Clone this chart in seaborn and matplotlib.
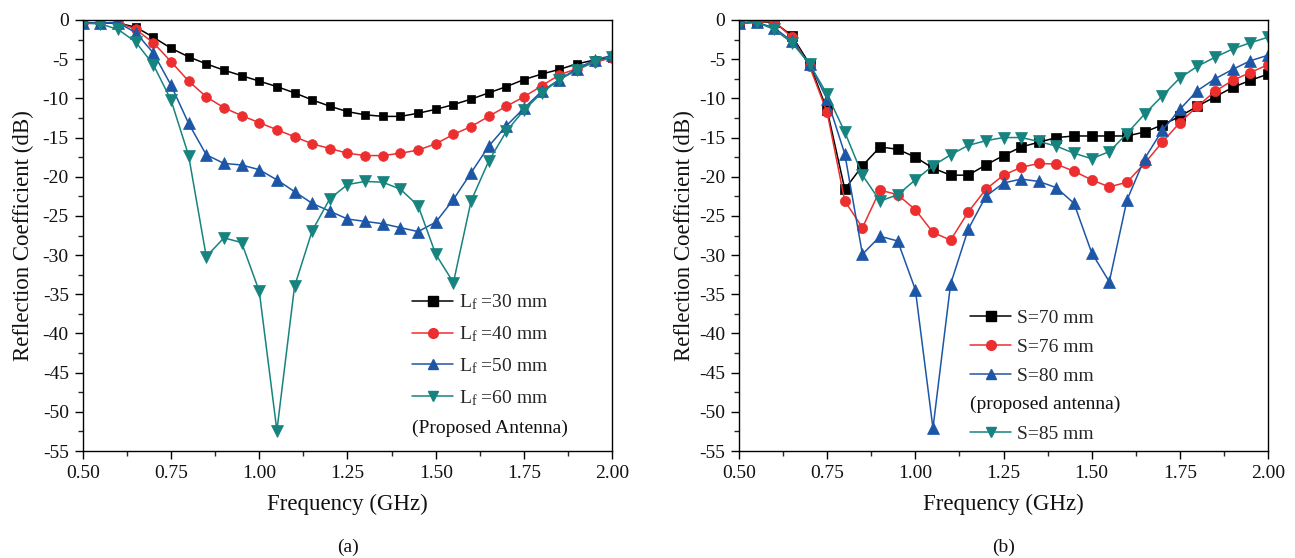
import numpy as np
import pandas as pd
import matplotlib
matplotlib.use("Agg")
import matplotlib.pyplot as plt
from matplotlib.lines import Line2D
from matplotlib.ticker import MultipleLocator
import seaborn as sns

freq = [0.50, 0.55, 0.60, 0.65, 0.70, 0.75, 0.80, 0.85, 0.90, 0.95,
        1.00, 1.05, 1.10, 1.15, 1.20, 1.25, 1.30, 1.35, 1.40, 1.45,
        1.50, 1.55, 1.60, 1.65, 1.70, 1.75, 1.80, 1.85, 1.90, 1.95, 2.00]

# panel (a)
lf30 = [-0.3, -0.4, -0.4, -0.9, -2.2, -3.6, -4.7, -5.6, -6.4, -7.1, -7.8, -8.5, -9.3, -10.2, -11.0,
        -11.7, -12.1, -12.3, -12.3, -11.9, -11.4, -10.8, -10.1, -9.3, -8.5, -7.6, -6.9, -6.3, -5.6, -5.1, -4.8]
lf40 = [-0.4, -0.4, -0.3, -1.2, -2.9, -5.3, -7.8, -9.8, -11.2, -12.2, -13.1, -14.0, -14.9, -15.8, -16.4,
        -17.0, -17.3, -17.3, -17.0, -16.6, -15.8, -14.6, -13.6, -12.3, -11.0, -9.8, -8.4, -7.0, -6.2, -5.4, -4.8]
lf50 = [-0.4, -0.35, -0.35, -1.6, -4.2, -8.3, -13.2, -17.2, -18.3, -18.5, -19.1, -20.4, -21.9, -23.4, -24.4,
        -25.4, -25.7, -26.0, -26.5, -27.0, -25.8, -22.9, -19.5, -16.1, -13.5, -11.25, -9.1, -7.6, -6.2, -5.1, -4.5]
lf60 = [-0.4, -0.5, -1.2, -2.8, -5.7, -10.2, -17.3, -30.2, -27.8, -28.4, -34.6, -52.4, -34.0, -26.9, -22.8,
        -21.0, -20.6, -20.7, -21.6, -23.7, -29.9, -33.5, -23.1, -18.0, -14.2, -11.5, -9.3, -7.6, -6.4, -5.3, -4.75]
labels_a = [r"L$_{\mathregular{f}}$ =30 mm", r"L$_{\mathregular{f}}$ =40 mm",
            r"L$_{\mathregular{f}}$ =50 mm", r"L$_{\mathregular{f}}$ =60 mm"]
note_a = "(Proposed Antenna)"

# panel (b)
s70 = [-0.4, -0.2, -0.3, -2.0, -5.6, -11.5, -21.6, -18.6, -16.2, -16.5, -17.5, -18.9, -19.8, -19.8, -18.5,
       -17.3, -16.2, -15.6, -15.0, -14.8, -14.8, -14.8, -14.8, -14.3, -13.4, -12.3, -11.0, -9.8, -8.6, -7.7, -6.9]
s76 = [-0.4, -0.2, -0.2, -2.2, -5.9, -11.8, -23.1, -26.5, -21.7, -22.3, -24.2, -27.1, -28.1, -24.5, -21.6,
       -19.8, -18.8, -18.3, -18.4, -19.3, -20.4, -21.3, -20.7, -18.3, -15.6, -13.1, -11.0, -9.1, -7.7, -6.7, -5.7]
s80 = [-0.4, -0.3, -1.0, -2.7, -5.6, -10.1, -17.1, -29.9, -27.6, -28.2, -34.4, -52.1, -33.7, -26.7, -22.5,
       -20.8, -20.3, -20.6, -21.4, -23.4, -29.7, -33.4, -23.0, -17.7, -14.1, -11.4, -9.0, -7.5, -6.3, -5.2, -4.5]
s85 = [-0.5, -0.3, -1.2, -2.9, -5.6, -9.5, -14.3, -19.8, -23.1, -22.3, -20.4, -18.6, -17.2, -16.0, -15.4,
       -15.0, -15.0, -15.5, -16.1, -17.0, -17.7, -16.8, -14.5, -12.0, -9.7, -7.4, -5.9, -4.75, -3.7, -2.9, -2.2]
labels_b = ["S=70 mm", "S=76 mm", "S=80 mm", "S=85 mm"]
note_b = "(proposed antenna)"

xticks = [0.50, 0.75, 1.00, 1.25, 1.50, 1.75, 2.00]
xticklabels = ["0.50", "0.75", "1.00", "1.25", "1.50", "1.75", "2.00"]
yticks = [0, -5, -10, -15, -20, -25, -30, -35, -40, -45, -50, -55]

colors = ["#000000", "#EC2E2E", "#1D56A6", "#17837E"]
markers = ["s", "o", "^", "v"]

sns.set_theme(style="ticks")
plt.rcParams["font.family"] = ["Liberation Serif", "DejaVu Serif"]
plt.rcParams["mathtext.fontset"] = "custom"
plt.rcParams["mathtext.rm"] = "Liberation Serif"
plt.rcParams["mathtext.it"] = "Liberation Serif:italic"

fig = plt.figure(figsize=(12.95, 5.58), dpi=100)
axA = fig.add_axes([82.7 / 1295, 1 - 451 / 558, 529.6 / 1295, 431 / 558])
axB = fig.add_axes([739 / 1295, 1 - 451 / 558, 529 / 1295, 431 / 558])

msizes_a = [6.0, 7.0, 8.0, 8.0]
msizes_b = [6.6, 7.4, 8.4, 8.4]

for ax, series, labels, msz in [(axA, [lf30, lf40, lf50, lf60], labels_a, msizes_a),
                                (axB, [s70, s76, s80, s85], labels_b, msizes_b)]:
    for vals, lab, c, m, ms in zip(series, labels, colors, markers, msz):
        df = pd.DataFrame({"f": freq, "v": vals})
        sns.lineplot(data=df, x="f", y="v", ax=ax, color=c, marker=m, markersize=ms,
                     markeredgecolor=c, markeredgewidth=0.5, linewidth=1.1, label=lab, legend=False)
    ax.set_xlim(0.5, 2.0)
    ax.set_ylim(-55, 0)
    ax.set_xticks(xticks)
    ax.set_xticklabels(xticklabels)
    ax.set_yticks(yticks)
    ax.set_yticklabels([str(t) for t in yticks])
    ax.xaxis.set_minor_locator(MultipleLocator(0.125))
    ax.yaxis.set_minor_locator(MultipleLocator(2.5))
    ax.tick_params(which="major", direction="out", length=6, width=1.0, labelsize=14, color="black",
                   labelcolor="#111111", top=False, right=False, pad=4)
    ax.tick_params(which="minor", direction="out", length=3.5, width=1.0, top=False, right=False)
    for sp in ax.spines.values():
        sp.set_visible(True)
        sp.set_color("black")
        sp.set_linewidth(1.0)
    ax.set_xlabel("Frequency (GHz)", fontsize=16.5, color="#111111")
    ax.set_ylabel("Reflection Coefficient (dB)", fontsize=16.5, color="#111111")
    ax.grid(False)

axA.xaxis.set_label_coords(0.5, -0.1)
axA.yaxis.set_label_coords(-0.092, 0.5)
axB.xaxis.set_label_coords(0.5, -0.1)
axB.yaxis.set_label_coords(-0.084, 0.5)

def handle(i):
    return Line2D([], [], color=colors[i], marker=markers[i], markersize=7,
                  markeredgecolor=colors[i], linewidth=1.1)

legA = axA.legend([handle(i) for i in range(4)], labels_a, loc="upper left",
                  bbox_to_anchor=(0.622, 0.368), frameon=False, fontsize=14,
                  handlelength=2.1, handletextpad=0.3, labelspacing=0.63, borderpad=0,
                  borderaxespad=0)
axA.text(0.622, 0.053, note_a, transform=axA.transAxes, fontsize=14, ha="left", va="center",
         color="#111111")

blank = Line2D([], [], linestyle="none")
legB = axB.legend([handle(0), handle(1), handle(2), blank, handle(3)],
                  [labels_b[0], labels_b[1], labels_b[2], " ", labels_b[3]], loc="upper left",
                  bbox_to_anchor=(0.437, 0.328), frameon=False, fontsize=14,
                  handlelength=2.1, handletextpad=0.3, labelspacing=0.58, borderpad=0,
                  borderaxespad=0)
axB.text(0.437, 0.109, note_b, transform=axB.transAxes, fontsize=14, ha="left", va="center",
         color="#111111")

fig.text(347.5 / 1295, 1 - 547 / 558, "(a)", ha="center", va="center", fontsize=14, color="#111111")
fig.text(1003.5 / 1295, 1 - 547 / 558, "(b)", ha="center", va="center", fontsize=14, color="#111111")

fig.savefig("out.png", dpi=100, facecolor="white")
